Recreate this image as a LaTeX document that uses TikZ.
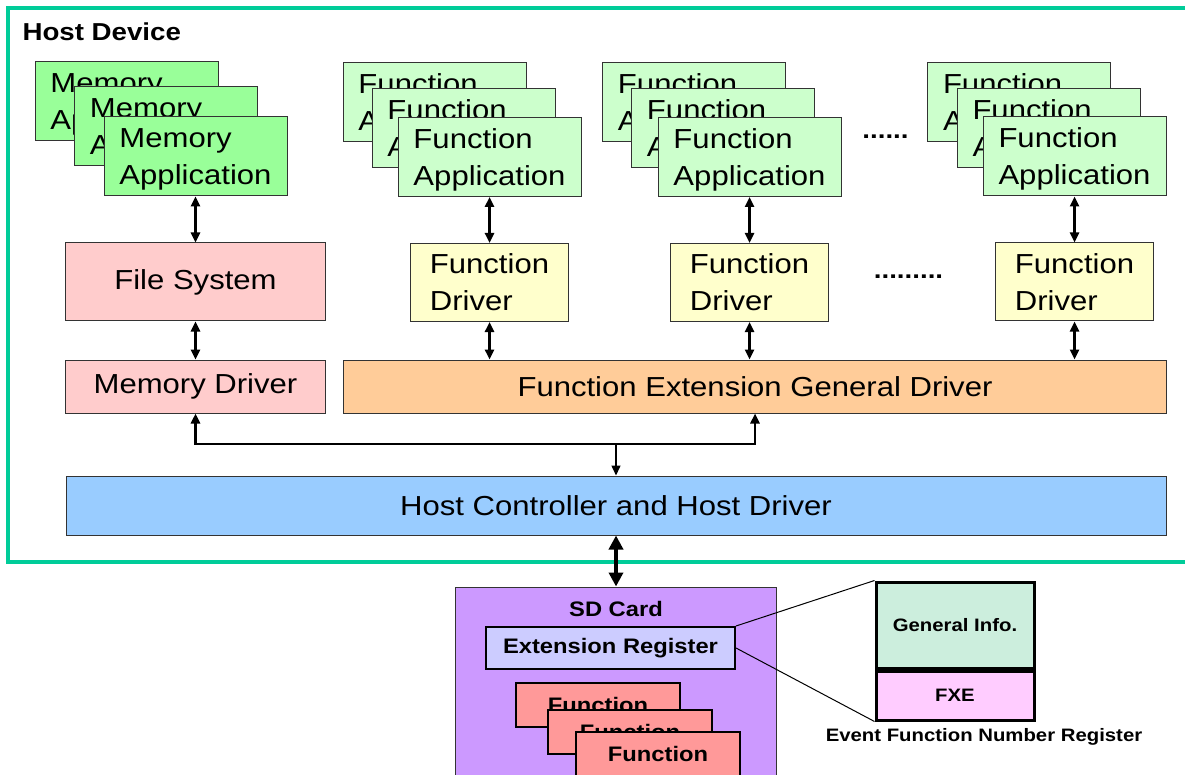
\documentclass[tikz,border=0pt]{standalone}
\usepackage{fontspec}
\setmainfont{Liberation Sans}[FakeStretch=1.13]
\usetikzlibrary{arrows.meta,positioning}
\definecolor{hostgreen}{HTML}{00CC99}
\definecolor{memgreen}{HTML}{99FF99}
\definecolor{fungreen}{HTML}{CCFFCC}
\definecolor{drvyellow}{HTML}{FFFFCC}
\definecolor{mempink}{HTML}{FFCCCC}
\definecolor{extorange}{HTML}{FFCC99}
\definecolor{hostblue}{HTML}{99CCFF}
\definecolor{cardpurple}{HTML}{CC99FF}
\definecolor{reglilac}{HTML}{CCCCFF}
\definecolor{funred}{HTML}{FF9999}
\definecolor{infomint}{HTML}{CCEEDD}
\definecolor{fxepink}{HTML}{FFCCFF}
\newcommand{\layerfont}{\fontsize{27.5}{37}\selectfont}
\newcommand{\titlefont}{\fontsize{24.5}{28}\selectfont\bfseries}
\newcommand{\cardfont}{\fontsize{21}{25}\selectfont\bfseries}
\newcommand{\regfont}{\fontsize{18}{22}\selectfont\bfseries}
\tikzset{
  layerbox/.style={draw=black!80, line width=1pt, align=center, font=\layerfont,
    inner sep=0pt},
  appbox/.style={layerbox, align=left, minimum width=183pt, minimum height=79pt,
    text depth=-9pt},
  drvbox/.style={layerbox, align=left, fill=drvyellow, minimum width=158pt,
    minimum height=78pt},
  cardbox/.style={draw=black, line width=2pt, font=\cardfont, inner sep=0pt},
  regbox/.style={draw=black, line width=3pt, font=\regfont, inner sep=0pt,
    minimum width=158pt},
  linkarrow/.style={{Triangle[length=10pt,width=9pt]}-{Triangle[length=10pt,width=9pt]},
    line width=2.4pt},
  busarrow/.style={-{Triangle[length=10pt,width=9pt]}, line width=2.5pt},
  sdarrow/.style={{Triangle[length=14pt,width=14pt]}-{Triangle[length=14pt,width=14pt]},
    line width=4.5pt}
}

\begin{document}
\begin{tikzpicture}[x=1pt, y=-1pt]
    \useasboundingbox (0,0) rectangle (1185,775);
    % host device frame
    \draw[hostgreen, line width=4pt] (8,8) rectangle (1200,562);
    \node[anchor=west, font=\titlefont] (hostlbl) at (19,32) {Host Device};
    % application stacks
    \node[appbox, fill=memgreen] (memapp1) at (126.5,101.5) {Memory\\Application};
    \node[appbox, fill=memgreen] (memapp2) at (166,126.5) {Memory\\Application};
    \node[appbox, fill=memgreen] (memapp3) at (195.5,156.5) {Memory\\Application};
    \node[appbox, fill=fungreen] (funappa1) at (434.5,102.5) {Function\\Application};
    \node[appbox, fill=fungreen] (funappa2) at (463.5,128) {Function\\Application};
    \node[appbox, fill=fungreen] (funappa3) at (489.5,157) {Function\\Application};
    \node[appbox, fill=fungreen] (funappb1) at (694,102.5) {Function\\Application};
    \node[appbox, fill=fungreen] (funappb2) at (723,128) {Function\\Application};
    \node[appbox, fill=fungreen] (funappb3) at (749.5,157) {Function\\Application};
    \node[appbox, fill=fungreen] (funappc1) at (1019,102) {Function\\Application};
    \node[appbox, fill=fungreen] (funappc2) at (1048.5,128.5) {Function\\Application};
    \node[appbox, fill=fungreen] (funappc3) at (1074.5,156.5) {Function\\Application};
    \node[font=\titlefont] (appdots) at (885.5,137) {......};
    % drivers
    \node[layerbox, fill=mempink, below=46pt of memapp3, minimum width=260pt,
      minimum height=78pt] (filesys) {File System};
    \node[drvbox, below=46pt of funappa3] (fundrva) {Function\\Driver};
    \node[drvbox, below=46pt of funappb3] (fundrvb) {Function\\Driver};
    \node[drvbox, below=46pt of funappc3] (fundrvc) {Function\\Driver};
    \node[font=\titlefont] (drvdots) at (908.5,277) {.........};
    \node[layerbox, fill=mempink, below=38pt of filesys, minimum width=260pt,
      minimum height=53pt] (memdrv) {Memory Driver};
    \node[layerbox, fill=extorange, right=17pt of memdrv, minimum width=823pt,
      minimum height=53pt] (extdrv) {Function Extension General Driver};
    \node[layerbox, fill=hostblue, minimum width=1100pt, minimum height=59pt]
      (hostctl) at (616,505.5) {Host Controller and Host Driver};
    \coordinate (bus) at (616,444);
    \draw[linkarrow] (memapp3) -- (filesys);
    \draw[linkarrow] (filesys) -- (memdrv);
    \draw[linkarrow] (funappa3) -- (fundrva);
    \draw[linkarrow] (funappb3) -- (fundrvb);
    \draw[linkarrow] (funappc3) -- (fundrvc);
    \draw[linkarrow] (fundrva) -- (fundrva |- extdrv.north);
    \draw[linkarrow] (fundrvb) -- (fundrvb |- extdrv.north);
    \draw[linkarrow] (fundrvc) -- (fundrvc |- extdrv.north);
    \draw[busarrow] (bus) -| (memdrv.south);
    \draw[busarrow] (bus) -| (extdrv.south);
    \draw[busarrow, line width=1.5pt] (bus) -- (hostctl.north);
    % sd card
    \node[draw=black!80, line width=1pt, fill=cardpurple, minimum width=321pt,
      minimum height=220pt, inner sep=0pt] (sdcard) at (615.5,697) {};
    \draw[sdarrow] (hostctl.south) -- (hostctl.south |- sdcard.north);
    \node[font=\cardfont] (sdtitle) at (616,609) {SD Card};
    \node[cardbox, fill=reglilac, minimum width=249pt, minimum height=42pt]
      (extreg) at (610.5,648) {Extension Register};
    \node[cardbox, fill=funred, minimum width=164pt, minimum height=44pt]
      (sdfun1) at (598,705) {Function};
    \node[cardbox, fill=funred, minimum width=164pt, minimum height=44pt]
      (sdfun2) at (630,731.5) {Function};
    \node[cardbox, fill=funred, minimum width=164pt, minimum height=44pt]
      (sdfun3) at (658,753.5) {Function};
    % event function number register
    \node[regbox, fill=infomint, minimum height=86pt] (geninfo) at (955,625) {General Info.};
    \node[regbox, fill=fxepink, below=0pt of geninfo, minimum height=49pt] (fxe) {FXE};
    \node[font=\regfont] (efnr) at (984,737) {Event Function Number Register};
    \draw[line width=1pt] (extreg.north east) -- (geninfo.north west);
    \draw[line width=1pt] (extreg.east) -- (fxe.south west);
  \end{tikzpicture}
\end{document}
